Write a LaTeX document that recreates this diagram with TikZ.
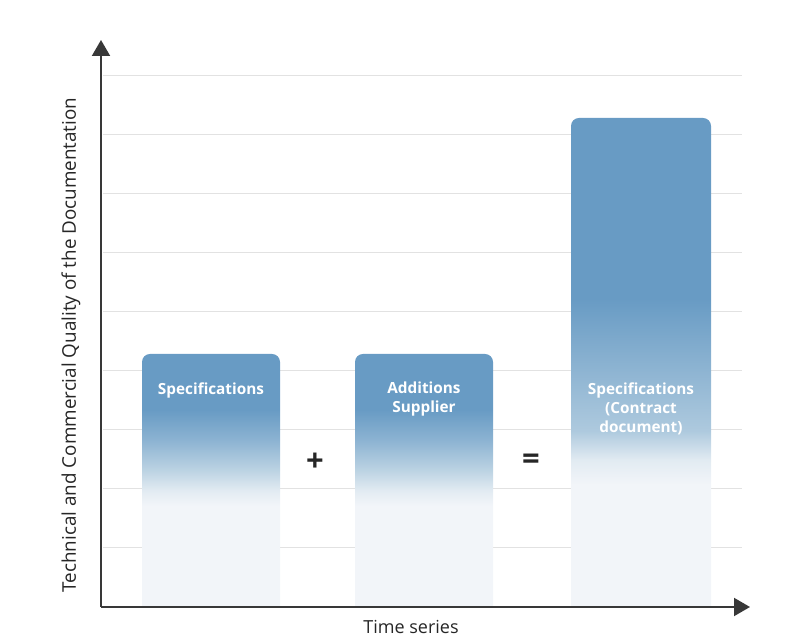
\documentclass[tikz,border=0pt]{standalone}
\usepackage{fontspec}
\setmainfont{Open Sans}
\usepackage{tikz}
\usetikzlibrary{arrows.meta, calc}

\definecolor{barblue}{HTML}{689BC4}
\definecolor{barmidA}{HTML}{8CB3D2}
\definecolor{barmidB}{HTML}{BCD3E3}
\definecolor{barpale}{HTML}{E2EBF2}
\definecolor{barlight}{HTML}{F2F5F9}
\definecolor{gridgray}{HTML}{E2E2E2}
\definecolor{axisgray}{HTML}{383838}

% 25bp = bottom of the bar, 75bp = top of the bar
\pgfdeclareverticalshading{shortfade}{100bp}{%
	color(0bp)=(barlight);
	color(45bp)=(barlight);
	color(48bp)=(barpale);
	color(52bp)=(barmidB);
	color(58bp)=(barmidA);
	color(64bp)=(barblue);
	color(100bp)=(barblue)}
\pgfdeclareverticalshading{tallfade}{100bp}{%
	color(0bp)=(barlight);
	color(37.5bp)=(barlight);
	color(40bp)=(barpale);
	color(43bp)=(barmidB!70!barmidA);
	color(56.5bp)=(barblue);
	color(100bp)=(barblue)}

\providecommand{\DocBar}[4]{% left, right, top, shading
	\shade[shading=#4] (#1, 37) -- ($ (#1, #3)+(0,-8) $) arc (180:90:0.2cm)
		-- ($ (#2, #3)+(-8,0) $) arc (90:0:0.2cm) -- (#2, 37) -- cycle;
}

\tikzset{
	gridline/.style={draw=gridgray, line width=0.7pt},
	axisline/.style={draw=axisgray, line width=1.4pt, -{Triangle[width=0.45cm, length=0.4cm]}},
	barlabel/.style={text=white, align=center, inner sep=0pt, font=\bfseries\fontsize{10.9}{13.4}\selectfont},
	sign/.style={text=black!85, inner sep=0pt, font=\bfseries\fontsize{22}{22}\selectfont},
	axislabel/.style={text=black!85, inner sep=0pt}
}

\begin{document}
\begin{tikzpicture}[x=0.025cm, y=0.025cm]
	\useasboundingbox (0,0) rectangle (785,644);

	\coordinate (O) at (101, 37);
	\coordinate (ytip) at (101, 604);
	\coordinate (xtip) at (750, 37);

	% grid
	\foreach \i in {1,...,9}
		\draw[gridline] (103, {37+\i*59.1}) -- (742, {37+\i*59.1});

	% bars
	\DocBar{142}{280}{290}{shortfade}
	\DocBar{355}{493}{290}{shortfade}
	\DocBar{571}{711}{526}{tallfade}

	\node[barlabel] (spec) at (211, 254) {Specifications};
	\node[barlabel] (addsup) at (424, 245) {Additions\\Supplier};
	\node[barlabel] (contract) at (641, 235) {Specifications\\(Contract\\document)};

	\node[sign] (plus) at (315, 182) {+};
	\node[sign] (equals) at (531, 182) {=};

	% axes
	\draw[axisline] (O) -- (ytip);
	\draw[axisline] (O) -- (xtip);

	\node[axislabel, font=\fontsize{12.8}{15}\selectfont] (xlabel) at (411, 17) {Time series};
	\node[axislabel, font=\fontsize{13.4}{15}\selectfont, rotate=90] (ylabel) at (71, 299)
		{Technical and Commercial Quality of the Documentation};

\end{tikzpicture}
\end{document}
